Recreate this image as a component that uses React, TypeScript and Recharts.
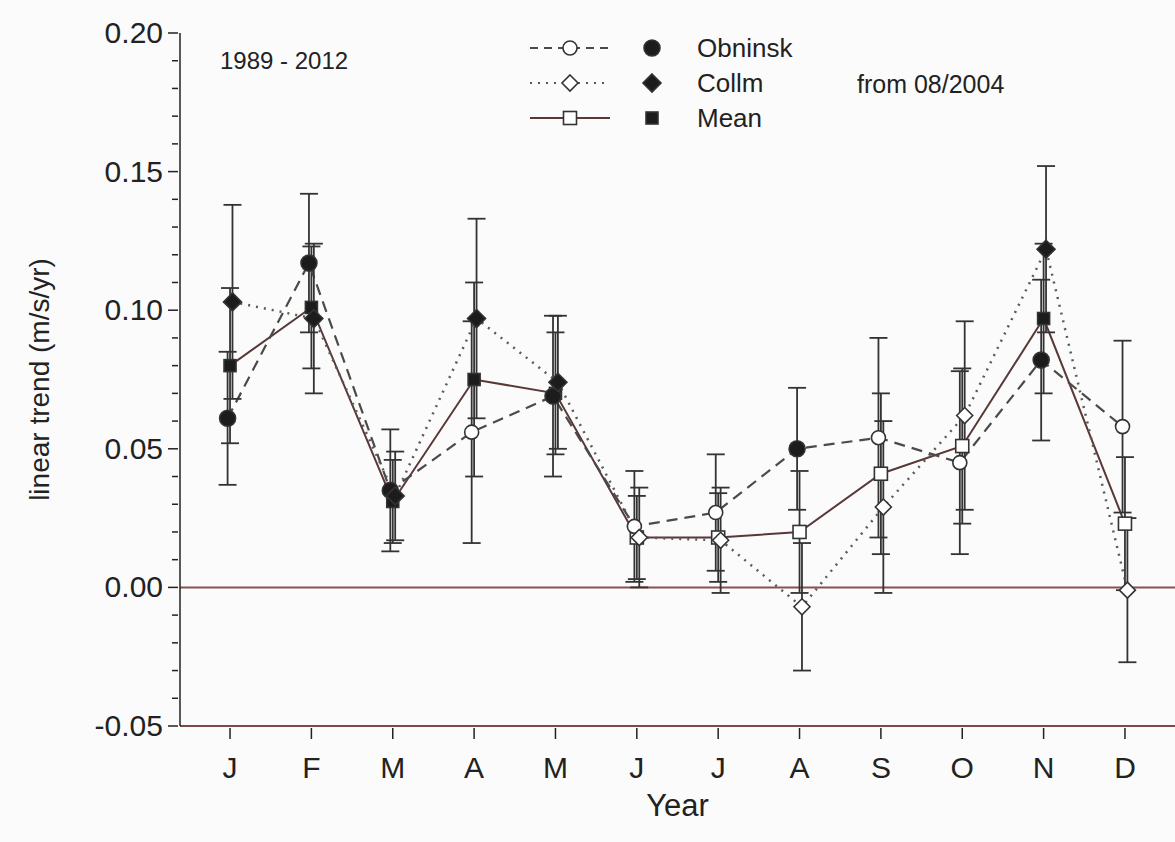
import React from 'react'
import { ComposedChart, Line, XAxis, YAxis, ErrorBar, ReferenceLine } from 'recharts'

const months = ['J', 'F', 'M', 'A', 'M', 'J', 'J', 'A', 'S', 'O', 'N', 'D']

const obninsk = [0.061, 0.117, 0.035, 0.056, 0.069, 0.022, 0.027, 0.050, 0.054, 0.045, 0.082, 0.058]
const obninskErr = [0.024, 0.025, 0.022, 0.040, 0.029, 0.020, 0.021, 0.022, 0.036, 0.033, 0.029, 0.031]
const obninskFilled = [1, 1, 1, 0, 1, 0, 0, 1, 0, 0, 1, 0]

const collm = [0.103, 0.097, 0.033, 0.097, 0.074, 0.018, 0.017, -0.007, 0.029, 0.062, 0.122, -0.001]
const collmErr = [0.035, 0.027, 0.016, 0.036, 0.024, 0.018, 0.019, 0.023, 0.031, 0.034, 0.030, 0.026]
const collmFilled = [1, 1, 1, 1, 1, 0, 0, 0, 0, 0, 1, 0]

const mean = [0.080, 0.101, 0.031, 0.075, 0.070, 0.018, 0.018, 0.020, 0.041, 0.051, 0.097, 0.023]
const meanErr = [0.028, 0.022, 0.015, 0.035, 0.022, 0.015, 0.016, 0.022, 0.029, 0.028, 0.027, 0.024]
const meanFilled = [1, 1, 1, 1, 1, 0, 0, 0, 0, 0, 1, 0]

const yMajor = [-0.05, 0, 0.05, 0.1, 0.15, 0.2]
const yTicks = Array.from({ length: 26 }, (_, i) => Math.round((-0.05 + i * 0.01) * 100) / 100)
const xTicks = months.map((_, i) => i + 1)

type Shape = 'circle' | 'diamond' | 'square'

const build = (vals: number[], errs: number[], filled: number[], shift: number) =>
  vals.map((v, i) => ({ x: i + 1 + shift, y: v, err: errs[i], filled: filled[i] === 1 }))

const obData = build(obninsk, obninskErr, obninskFilled, -0.03)
const coData = build(collm, collmErr, collmFilled, 0.03)
const meData = build(mean, meanErr, meanFilled, 0)

const FONT = '"Liberation Sans", Arial, sans-serif'
const INK = '#222'

function Marker({ shape, cx, cy, filled }: { shape: Shape; cx: number; cy: number; filled: boolean }) {
  const fill = filled ? '#1c1c1c' : '#fff'
  const common = { fill, stroke: '#333', strokeWidth: 1.6 }
  if (shape === 'circle') return <circle cx={cx} cy={cy} r={filled ? 8 : 7} {...common} />
  if (shape === 'diamond') {
    const r = filled ? 9 : 8
    return <polygon points={`${cx},${cy - r} ${cx + r},${cy} ${cx},${cy + r} ${cx - r},${cy}`} {...common} />
  }
  const s = filled ? 6 : 6.5
  return <rect x={cx - s} y={cy - s} width={s * 2} height={s * 2} {...common} />
}

const dotFor = (shape: Shape) => (props: any) => {
  const { cx, cy, payload, index } = props
  return (
    <g key={`${shape}-${index}`}>
      <Marker shape={shape} cx={cx} cy={cy} filled={payload.filled} />
    </g>
  )
}

const YTick = (props: any) => {
  const { x, y, payload } = props
  const major = yMajor.some(m => Math.abs(m - payload.value) < 1e-6)
  return (
    <g>
      <line x1={x - (major ? 10 : 6)} x2={x} y1={y} y2={y} stroke={INK} strokeWidth={1.5} />
      {major && (
        <text x={x - 15} y={y} dy={10} textAnchor="end" fontSize={30} fontFamily={FONT} fill={INK}>
          {payload.value.toFixed(2)}
        </text>
      )}
    </g>
  )
}

const XTick = (props: any) => {
  const { x, y, payload } = props
  return (
    <g>
      <line x1={x} x2={x} y1={y} y2={y + 11} stroke={INK} strokeWidth={1.5} />
      <text x={x} y={y + 50} textAnchor="middle" fontSize={30} fontFamily={FONT} fill={INK}>
        {months[payload.value - 1]}
      </text>
    </g>
  )
}

function LegendRow({ y, shape, dash, stroke, label }: { y: number; shape: Shape; dash?: string; stroke: string; label: string }) {
  return (
    <g>
      <line x1={530} x2={610} y1={y} y2={y} stroke={stroke} strokeWidth={2} strokeDasharray={dash} />
      <Marker shape={shape} cx={570} cy={y} filled={false} />
      <Marker shape={shape} cx={652} cy={y} filled />
      <text x={697} y={y} dy={9} fontSize={26} fontFamily={FONT} fill={INK}>{label}</text>
    </g>
  )
}

export default function App() {
  return (
    <div style={{ position: 'absolute', left: 0, top: 0, width: 1175, height: 842, background: '#fbfbfb' }}>
      <ComposedChart width={1175} height={842} margin={{ top: 33, right: 0, bottom: 56, left: 100 }}>
        <XAxis
          type="number"
          dataKey="x"
          domain={[0.385, 12.615]}
          ticks={xTicks}
          allowDataOverflow
          height={60}
          stroke="#7a4a4a"
          strokeWidth={2}
          tickLine={false}
          tickSize={0}
          tick={<XTick />}
          label={{ value: 'Year', position: 'bottom', offset: 8, fontSize: 31, fontFamily: FONT, fill: INK }}
        />
        <YAxis
          type="number"
          domain={[-0.05, 0.2]}
          ticks={yTicks}
          allowDataOverflow
          width={80}
          stroke={INK}
          strokeWidth={1.5}
          tickLine={false}
          tickSize={0}
          tick={<YTick />}
          interval={0}
          label={{
            content: ({ viewBox }: any) => {
              const cx = viewBox.x - 60
              const cy = viewBox.y + viewBox.height / 2
              return (
                <text x={cx} y={cy} transform={`rotate(-90, ${cx}, ${cy})`} textAnchor="middle" dy={9} fontSize={28} fontFamily={FONT} fill={INK}>
                  linear trend (m/s/yr)
                </text>
              )
            },
          }}
        />
        <ReferenceLine y={0} stroke="#8a5050" strokeWidth={2} />
        <Line
          data={meData}
          dataKey="y"
          type="linear"
          stroke="#5a3838"
          strokeWidth={2}
          dot={dotFor('square')}
          isAnimationActive={false}
        >
          <ErrorBar dataKey="err" direction="y" width={9} stroke="#333" strokeWidth={1.8} />
        </Line>
        <Line
          data={obData}
          dataKey="y"
          type="linear"
          stroke="#4a4a4a"
          strokeWidth={2.2}
          strokeDasharray="11 7"
          dot={dotFor('circle')}
          isAnimationActive={false}
        >
          <ErrorBar dataKey="err" direction="y" width={9} stroke="#333" strokeWidth={1.8} />
        </Line>
        <Line
          data={coData}
          dataKey="y"
          type="linear"
          stroke="#5a5a5a"
          strokeWidth={2.5}
          strokeDasharray="2 6"
          dot={dotFor('diamond')}
          isAnimationActive={false}
        >
          <ErrorBar dataKey="err" direction="y" width={9} stroke="#333" strokeWidth={1.8} />
        </Line>
      </ComposedChart>
      <svg width={1175} height={842} style={{ position: 'absolute', left: 0, top: 0, pointerEvents: 'none' }}>
        <text x={220} y={60} dy={9} fontSize={24} fontFamily={FONT} fill={INK}>1989 - 2012</text>
        <text x={857} y={84} dy={9} fontSize={25} fontFamily={FONT} fill={INK}>from 08/2004</text>
        <LegendRow y={48} shape="circle" dash="8 6" stroke="#4a4a4a" label="Obninsk" />
        <LegendRow y={83} shape="diamond" dash="2 6" stroke="#5a5a5a" label="Collm" />
        <LegendRow y={118} shape="square" stroke="#5a3838" label="Mean" />
      </svg>
    </div>
  )
}
